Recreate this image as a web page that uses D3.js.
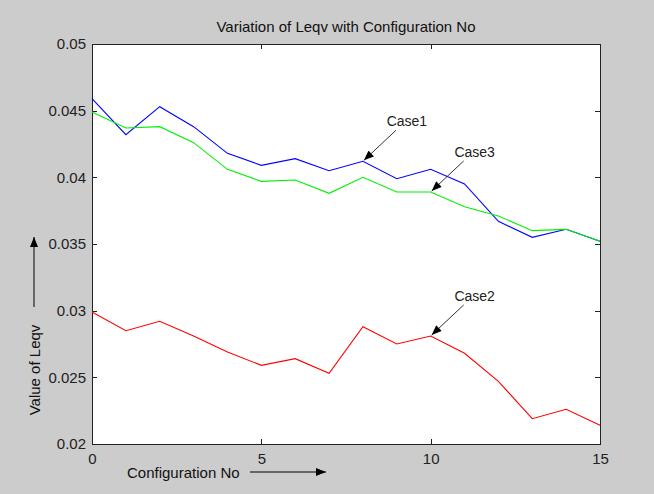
<!DOCTYPE html>
<html lang="en">
<head>
    <meta charset="UTF-8">
    <title>Variation of Leqv with Configuration No</title>
    <style>
        body {
            margin: 0;
            background-color: #cccccc;
        }

        svg {
            display: block;
            font-family: "Liberation Sans", Arial, sans-serif;
        }

        .axis path,
        .axis line {
            stroke: #222;
            stroke-width: 1;
            shape-rendering: crispEdges;
        }

        .axis text {
            font-size: 15px;
            fill: #222;
        }
    </style>
</head>
<body>
    <svg id="chart" width="654" height="494"></svg>

    <script src="https://d3js.org/d3.v7.min.js"></script>
    <script>
        // values
        const configNo = [0, 1, 2, 3, 4, 5, 6, 7, 8, 9, 10, 11, 12, 13, 14, 15];
        const case1 = [0.0459, 0.0432, 0.0453, 0.0438, 0.0418, 0.0409, 0.0414, 0.0405,
                       0.0412, 0.0399, 0.0406, 0.0395, 0.0367, 0.0355, 0.0361, 0.0352];
        const case3 = [0.0449, 0.0437, 0.0438, 0.0426, 0.0406, 0.0397, 0.0398, 0.0388,
                       0.0400, 0.0389, 0.0389, 0.0378, 0.0371, 0.0360, 0.0361, 0.0352];
        const case2 = [0.0299, 0.0285, 0.0292, 0.0281, 0.0269, 0.0259, 0.0264, 0.0253,
                       0.0288, 0.0275, 0.0281, 0.0268, 0.0247, 0.0219, 0.0226, 0.0214];
        const xTicks = [0, 5, 10, 15];
        const yTicks = [0.02, 0.025, 0.03, 0.035, 0.04, 0.045, 0.05];

        const series = [
            { name: "Case1", values: case1, color: "#0000ff" },
            { name: "Case3", values: case3, color: "#00f000" },
            { name: "Case2", values: case2, color: "#ff0000" }
        ];
        // which point each label points at
        const labels = [
            { name: "Case1", values: case1, at: 8 },
            { name: "Case3", values: case3, at: 10 },
            { name: "Case2", values: case2, at: 10 }
        ];

        const svg = d3.select("#chart");
        const box = { left: 92, right: 600, top: 44, bottom: 444 };

        const x = d3.scaleLinear().domain([0, 15]).range([box.left, box.right]);
        const y = d3.scaleLinear().domain([0.02, 0.05]).range([box.bottom, box.top]);

        // arrow head
        svg.append("defs").append("marker")
            .attr("id", "head")
            .attr("viewBox", "0 0 10 8")
            .attr("refX", 10)
            .attr("refY", 4)
            .attr("markerWidth", 11)
            .attr("markerHeight", 8)
            .attr("markerUnits", "userSpaceOnUse")
            .attr("orient", "auto")
            .append("path")
            .attr("d", "M0,0 L10,4 L0,8 Z")
            .attr("fill", "#000");

        // axes box
        svg.append("rect")
            .attr("x", box.left).attr("y", box.top)
            .attr("width", box.right - box.left).attr("height", box.bottom - box.top)
            .attr("fill", "#fff");

        svg.append("g")
            .attr("class", "axis")
            .attr("transform", `translate(0,${box.bottom})`)
            .call(d3.axisBottom(x).tickValues(xTicks).tickSizeInner(-5).tickSizeOuter(0).tickPadding(9)
                .tickFormat(d3.format("d")));

        svg.append("g")
            .attr("class", "axis")
            .attr("transform", `translate(0,${box.top})`)
            .call(d3.axisTop(x).tickValues(xTicks).tickSizeInner(-5).tickSizeOuter(0).tickFormat(""));

        svg.append("g")
            .attr("class", "axis")
            .attr("transform", `translate(${box.left},0)`)
            .call(d3.axisLeft(y).tickValues(yTicks).tickSizeInner(-5).tickSizeOuter(0).tickPadding(6)
                .tickFormat(d => String(+d.toFixed(3))));

        svg.append("g")
            .attr("class", "axis")
            .attr("transform", `translate(${box.right},0)`)
            .call(d3.axisRight(y).tickValues(yTicks).tickSizeInner(-5).tickSizeOuter(0).tickFormat(""));

        // lines
        const line = d3.line()
            .x((d, i) => x(configNo[i]))
            .y(d => y(d));

        svg.selectAll(".series")
            .data(series)
            .enter()
            .append("path")
            .attr("class", "series")
            .attr("d", d => line(d.values))
            .attr("fill", "none")
            .attr("stroke", d => d.color)
            .attr("stroke-width", 1.1);

        // labels with arrows
        labels.forEach(l => {
            const px = x(configNo[l.at]);
            const py = y(l.values[l.at]);
            svg.append("line")
                .attr("x1", px + 33).attr("y1", py - 31)
                .attr("x2", px + 1).attr("y2", py - 1)
                .attr("stroke", "#333")
                .attr("stroke-width", 1)
                .attr("marker-end", "url(#head)");
            svg.append("text")
                .attr("x", px + 44).attr("y", py - 35)
                .attr("text-anchor", "middle")
                .attr("font-size", 14)
                .attr("fill", "#222")
                .text(l.name);
        });

        // title
        svg.append("text")
            .attr("x", (box.left + box.right) / 2).attr("y", 32)
            .attr("text-anchor", "middle")
            .attr("font-size", 15)
            .attr("fill", "#111")
            .text("Variation of Leqv with Configuration No");

        // x label with arrow
        svg.append("text")
            .attr("x", 127).attr("y", 478)
            .attr("font-size", 15)
            .attr("fill", "#111")
            .text("Configuration No");
        svg.append("line")
            .attr("x1", 250).attr("y1", 472)
            .attr("x2", 326).attr("y2", 472)
            .attr("stroke", "#000")
            .attr("marker-end", "url(#head)");

        // y label with arrow
        svg.append("text")
            .attr("transform", "translate(40,370) rotate(-90)")
            .attr("text-anchor", "middle")
            .attr("font-size", 15)
            .attr("fill", "#111")
            .text("Value of Leqv");
        svg.append("line")
            .attr("x1", 34).attr("y1", 307)
            .attr("x2", 34).attr("y2", 237)
            .attr("stroke", "#000")
            .attr("marker-end", "url(#head)");
    </script>
</body>
</html>
